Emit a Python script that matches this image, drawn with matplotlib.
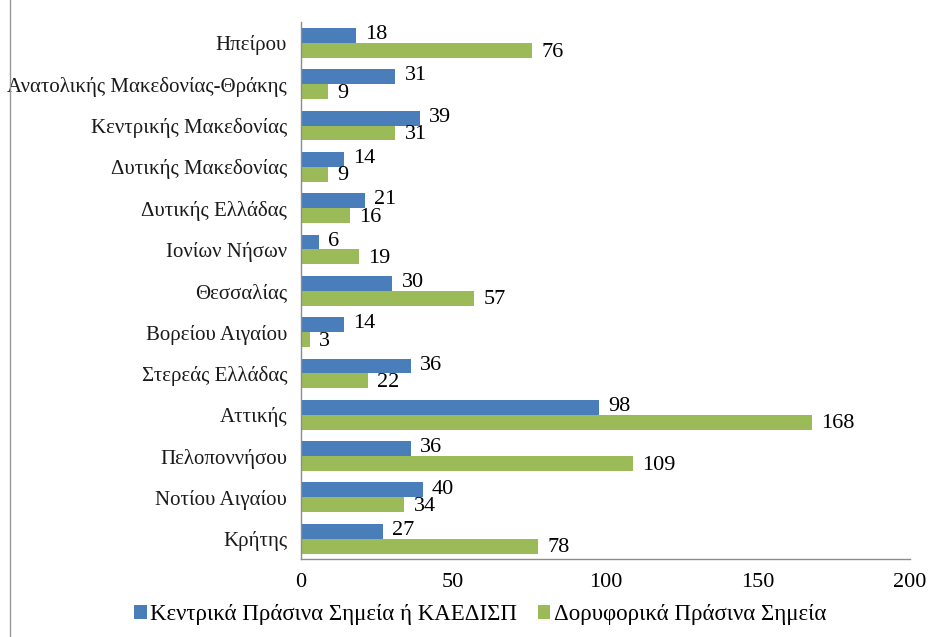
import matplotlib.pyplot as plt
import numpy as np
from matplotlib.lines import Line2D

# ---------------------------------------------------------------------------
# Data
# ---------------------------------------------------------------------------
REGIONS = [
    "Ηπείρου",
    "Ανατολικής Μακεδονίας-Θράκης",
    "Κεντρικής Μακεδονίας",
    "Δυτικής Μακεδονίας",
    "Δυτικής Ελλάδας",
    "Ιονίων Νήσων",
    "Θεσσαλίας",
    "Βορείου Αιγαίου",
    "Στερεάς Ελλάδας",
    "Αττικής",
    "Πελοποννήσου",
    "Νοτίου Αιγαίου",
    "Κρήτης",
]
CENTRAL = [18, 31, 39, 14, 21, 6, 30, 14, 36, 98, 36, 40, 27]
SATELLITE = [76, 9, 31, 9, 16, 19, 57, 3, 22, 168, 109, 34, 78]

LABEL_CENTRAL = "Κεντρικά Πράσινα Σημεία ή ΚΑΕΔΙΣΠ"
LABEL_SATELLITE = "Δορυφορικά Πράσινα Σημεία"
XTICKS = [0, 50, 100, 150, 200]

BLUE = "#4a7ebb"
GREEN = "#9bbb59"

plt.rcParams["font.family"] = ["Liberation Serif", "DejaVu Serif"]


def main() -> None:
    fig = plt.figure(figsize=(9.32, 6.37), dpi=100)
    ax = fig.add_axes([0.323, 0.122, 0.653, 0.843])

    y = np.arange(len(REGIONS))
    h = 0.36
    ax.barh(y - h / 2, CENTRAL, height=h, color=BLUE, label=LABEL_CENTRAL)
    ax.barh(y + h / 2, SATELLITE, height=h, color=GREEN, label=LABEL_SATELLITE)

    for yi, v in zip(y, CENTRAL):
        ax.text(v + 3, yi - h / 2 - 0.02, str(v), va="center", ha="left", fontsize=16)
    for yi, v in zip(y, SATELLITE):
        ax.text(v + 3, yi + h / 2 + 0.04, str(v), va="center", ha="left", fontsize=16)

    ax.set_ylim(len(REGIONS) - 0.5, -0.5)
    ax.set_xlim(0, 200)
    ax.set_xticks(XTICKS)
    ax.set_yticks(y)
    ax.set_yticklabels(REGIONS, fontsize=15, color="#1a1a1a")
    ax.tick_params(axis="x", labelsize=16, length=0, pad=10)
    ax.tick_params(axis="y", length=0, pad=10)

    for side in ("top", "right"):
        ax.spines[side].set_visible(False)
    for side in ("left", "bottom"):
        ax.spines[side].set_color("#8c8c8c")
        ax.spines[side].set_linewidth(1.0)

    fig.legend(
        loc="center",
        bbox_to_anchor=(0.515, 0.035),
        ncol=2,
        frameon=False,
        fontsize=16.5,
        handlelength=0.55,
        handleheight=0.55,
        handletextpad=0.15,
        columnspacing=0.9,
    )

    # thin frame line at the left edge of the picture
    fig.add_artist(Line2D([0.011, 0.011], [0, 1], color="#999999", linewidth=1.0))

    fig.savefig("out.png", dpi=100)


if __name__ == "__main__":
    main()
